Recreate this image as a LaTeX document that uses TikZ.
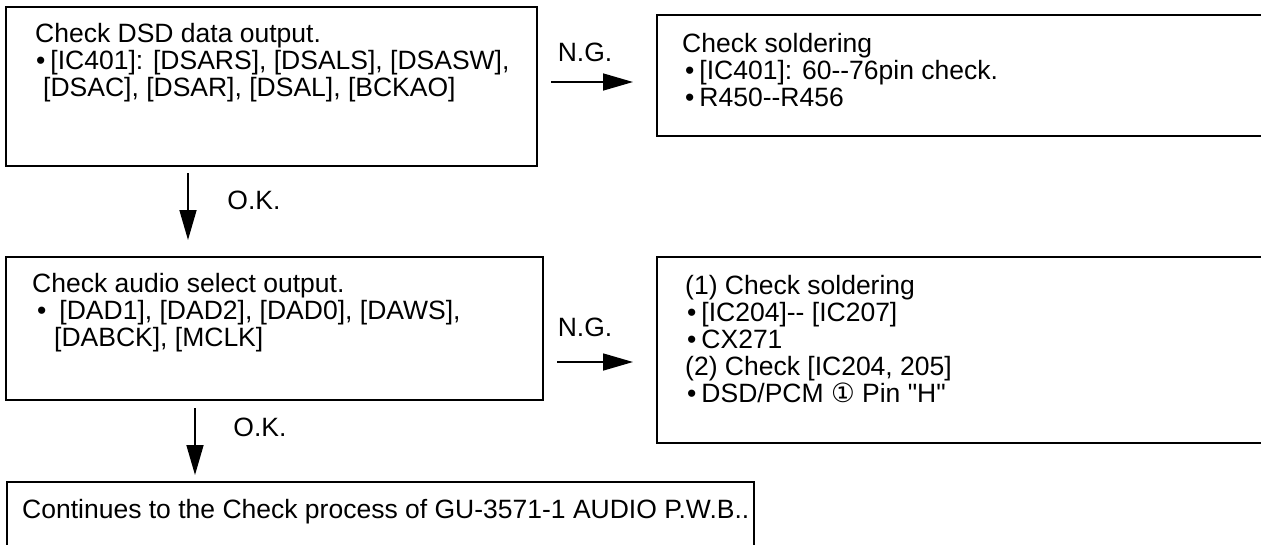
\documentclass[tikz,border=0pt]{standalone}
\usepackage{fontspec}
\setmainfont{Liberation Sans}[Ligatures=TeXOff]
\newfontfamily\symf{DejaVu Sans}
\usetikzlibrary{arrows.meta}
\newcommand{\bul}{\textbullet}
\begin{document}
\begin{tikzpicture}[x=1pt,y=-1pt,
  box/.style={draw,line width=2.2pt,anchor=north west,inner sep=0pt,outer sep=0pt},
  txt/.style={anchor=north west,align=left,inner sep=0pt,font=\fontsize{26.5}{27}\selectfont},
  lbl/.style={inner sep=0pt,font=\fontsize{26.5}{27}\selectfont},
  arr/.style={line width=1.6pt,-{Triangle[length=30pt,width=17pt]}}]
\useasboundingbox (0,0) rectangle (1261,544);
\clip (0,0) rectangle (1261,544);
% boxes
\node[box,minimum width=531pt,minimum height=159pt] (b1) at (6,7) {};
\node[box,minimum width=700pt,minimum height=121pt] (b2) at (657,15) {};
\node[box,minimum width=537pt,minimum height=143pt] (b3) at (6,257) {};
\node[box,minimum width=700pt,minimum height=186pt] (b4) at (657,257) {};
\node[box,minimum width=747pt,minimum height=100pt] (b5) at (7,482) {};
% texts
\node[txt] (t1) at (35,23.5) {Check DSD data output.\\
\hspace*{1pt}\bul\kern5pt[IC401]: [DSARS], [DSALS], [DSASW],\\
\hspace*{8pt}[DSAC], [DSAR], [DSAL], [BCKAO]};
\node[txt] (t2) at (682,33.5) {Check soldering\\
\hspace*{3pt}\bul\kern5pt[IC401]: 60--76pin check.\\
\hspace*{3pt}\bul\kern5pt R450--R456};
\node[txt] (t3) at (32,273.5) {Check audio select output.\\
\hspace*{5pt}\bul\kern13pt[DAD1], [DAD2], [DAD0], [DAWS],\\
\hspace*{22pt}[DABCK], [MCLK]};
\node[txt] (t4) at (685,275.5) {(1) Check soldering\\
\hspace*{2pt}\bul\kern5pt[IC204]-- [IC207]\\
\hspace*{2pt}\bul\kern5pt CX271\\
(2) Check [IC204, 205]\\
\hspace*{2pt}\bul\kern5pt DSD/PCM {\symf ①} Pin "H"};
\node[txt,anchor=west] (t5) at (22,512) {Continues to the Check process of GU-3571-1 AUDIO P.W.B..};
% labels
\node[lbl] (ng1) at (585,52) {N.G.};
\node[lbl] (ng2) at (585,327) {N.G.};
\node[lbl] (ok1) at (254,200) {O.K.};
\node[lbl] (ok2) at (260,427) {O.K.};
% connectors
\draw[arr,shorten <=14pt,shorten >=24pt] ([yshift=4.5pt]b1.east) -- ([yshift=4.5pt]b1.east -| b2.west);
\draw[arr,shorten <=14pt,shorten >=24pt] ([yshift=-33.5pt]b3.east) -- ([yshift=-33.5pt]b3.east -| b4.west);
\draw[arr,shorten <=7pt,shorten >=17pt] ([xshift=182pt]b1.south west) -- ([xshift=182pt]b1.south west |- b3.north);
\draw[arr,shorten <=8pt,shorten >=7pt] ([xshift=189pt]b3.south west) -- ([xshift=189pt]b3.south west |- b5.north);
\end{tikzpicture}
\end{document}
